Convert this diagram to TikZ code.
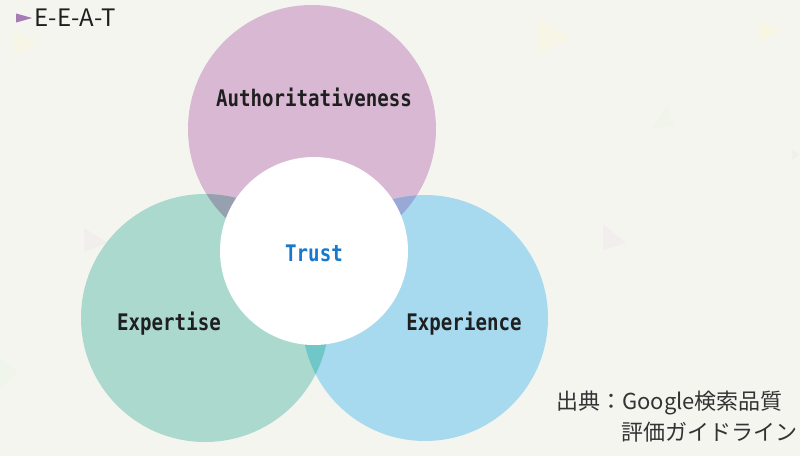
\documentclass[tikz,border=0pt]{standalone}
\usepackage{fontspec}
\setmainfont{Noto Sans CJK JP}
\newfontfamily\labelfont{DejaVu Sans Mono}
\usetikzlibrary{shapes.geometric}
\definecolor{bgc}{HTML}{F5F5F0}
\definecolor{purp}{HTML}{D8B8D3}
\definecolor{grn}{HTML}{ABD9CE}
\definecolor{blu}{HTML}{A7D9EF}
\definecolor{pg}{HTML}{97A0AF}
\definecolor{pb}{HTML}{98A9D7}
\definecolor{gb}{HTML}{6FC7C8}
\definecolor{trustc}{HTML}{1679CC}
\definecolor{tri}{HTML}{A77BB5}
\definecolor{srcc}{HTML}{333333}
\newcommand{\talltext}[1]{\scalebox{0.98}[1.17]{#1}}
\tikzset{
  venn/.style={circle, inner sep=0pt, minimum size=#1},
  lab/.style={font=\labelfont\bfseries\fontsize{19.5}{22}\selectfont, text=black!88},
  deco/.style={fill=#1, draw=none},
}
\begin{document}
\begin{tikzpicture}[x=1pt,y=-1pt]
\useasboundingbox (0,0) rectangle (800,456);
\fill[bgc] (0,0) rectangle (800,456);
% faint decorative triangles
\fill[deco={yellow!5!bgc}] (537,18) -- (570,38) -- (537,55) -- cycle;
\fill[deco={yellow!6!bgc}] (760,20) -- (780,31) -- (760,42) -- cycle;
\fill[deco={green!2!bgc}] (652,128) -- (667,105) -- (675,127) -- cycle;
\fill[deco={violet!3!bgc}] (84,228) -- (108,243) -- (84,252) -- cycle;
\fill[deco={violet!3!bgc}] (603,224) -- (626,243) -- (603,250) -- cycle;
\fill[deco={violet!3!bgc}] (792,150) -- (800,155) -- (792,160) -- cycle;
\fill[deco={yellow!5!bgc}] (14,30) -- (38,42) -- (14,56) -- cycle;
\fill[deco={green!2!bgc}] (0,358) -- (18,372) -- (0,390) -- cycle;
% circles
\node[venn=248pt, fill=purp] (auth) at (312,129) {};
\node[venn=248pt, fill=grn] (expt) at (205,318) {};
\node[venn=246pt, fill=blu] (expr) at (425,318) {};
% overlaps
\begin{scope}
  \clip (312,129) circle (124);
  \fill[pg] (205,318) circle (124);
\end{scope}
\begin{scope}
  \clip (312,129) circle (124);
  \fill[pb] (425,318) circle (123);
\end{scope}
\begin{scope}
  \clip (205,318) circle (124);
  \fill[gb] (425,318) circle (123);
\end{scope}
\node[venn=188pt, fill=white] (trust) at (314,251) {};
% labels
\node[lab] (authl) at (314,97) {\talltext{Authoritativeness}};
\node[lab] (exptl) at (169,324) {\talltext{Expertise}};
\node[lab] (exprl) at (464,324) {\talltext{Experience}};
\node[lab, text=trustc] (trustl) at (314,253) {\talltext{Trust}};
% title
\node[isosceles triangle, isosceles triangle apex angle=60, fill=tri, inner sep=0pt, minimum height=16pt, minimum width=9pt, isosceles triangle stretches, anchor=west] (mark) at (16,18) {};
\node[anchor=west, inner sep=0pt, xshift=2pt, font=\fontsize{24}{26}\selectfont, text=black!88] (title) at (mark.east) {E-E-A-T};
% source
\node[anchor=west, inner sep=0pt, font=\fontsize{22}{24}\selectfont, text=srcc] (src1) at (556,403) {出典：Google検索品質};
\node[anchor=west, inner sep=0pt, font=\fontsize{22}{24}\selectfont, text=srcc] (src2) at (621,432) {評価ガイドライン};
\end{tikzpicture}
\end{document}
